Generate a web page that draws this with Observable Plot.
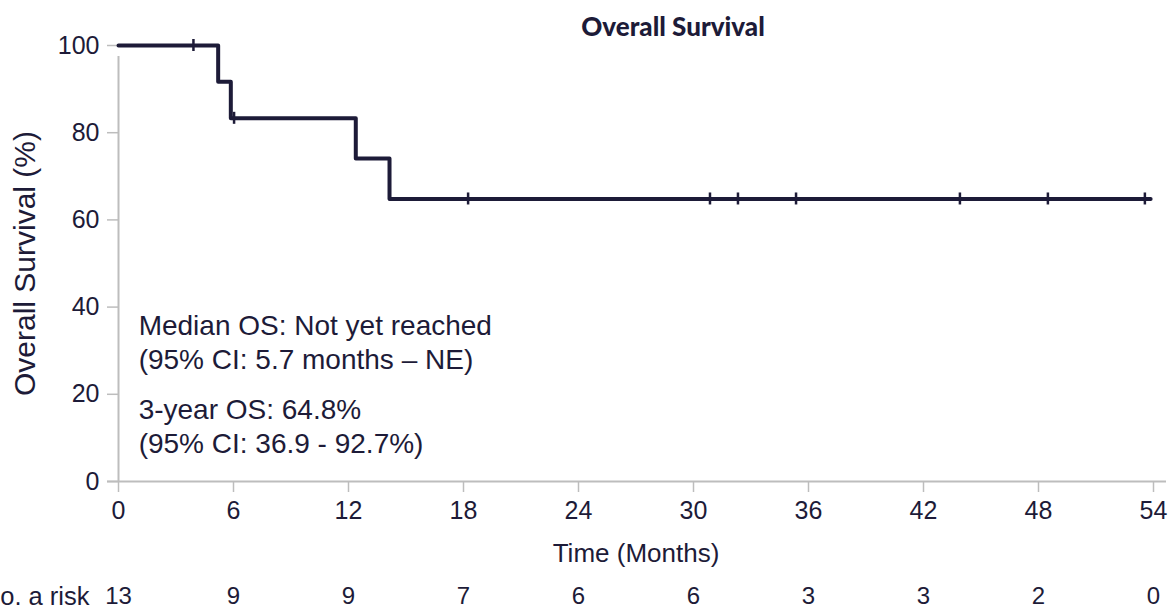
<!DOCTYPE html>
<html>
<head>
<meta charset="utf-8">
<script src="https://cdn.jsdelivr.net/npm/d3@7"></script>
<script src="https://cdn.jsdelivr.net/npm/@observablehq/plot@0.6"></script>
<style>
  html, body { margin: 0; padding: 0; background: #fff; }
  #chart { width: 1168px; height: 608px; overflow: hidden; }
</style>
</head>
<body>
<div id="chart"></div>
<script>
// Kaplan–Meier step curve (time in months, survival %)
const stepTimes = [0, 5.2, 5.86, 12.38, 14.14, 53.85];
const stepSurv  = [100, 91.7, 83.3, 74.1, 64.8, 64.8];

// Censoring marks
const censorTimes = [3.91, 6.03, 18.24, 30.86, 32.32, 35.35, 43.9, 48.49, 53.55];
const censorSurv  = [100, 83.3, 64.8, 64.8, 64.8, 64.8, 64.8, 64.8, 64.8];

// Axis ticks
const xTicks = [0, 6, 12, 18, 24, 30, 36, 42, 48, 54];
const yTicks = [0, 20, 40, 60, 80, 100];

// Number at risk
const riskTimes  = [0, 6, 12, 18, 24, 30, 36, 42, 48, 54];
const riskCounts = [13, 9, 9, 7, 6, 6, 3, 3, 2, 0];

// Text
const titleText = "Overall Survival";
const xLabel = "Time (Months)";
const yLabel = "Overall Survival (%)";
const riskLabel = "No. a risk";
const annotLines = [
  "Median OS: Not yet reached",
  "(95% CI: 5.7 months \u2013 NE)",
  "3-year OS: 64.8%",
  "(95% CI: 36.9 - 92.7%)"
];

const steps = stepTimes.map((t, i) => ({t, s: stepSurv[i]}));
const censors = censorTimes.map((t, i) => ({t, s: censorSurv[i]}));

const ink = "#1d1b38";
const axisGray = "#bdbdbd";
const font = "'Liberation Sans', Arial, sans-serif";

const chart = Plot.plot({
  width: 1168,
  height: 608,
  marginLeft: 118,
  marginRight: 15,
  marginTop: 45,
  marginBottom: 127,
  style: {fontFamily: font, color: ink, background: "#fff", overflow: "visible"},
  x: {domain: [0, 54]},
  y: {domain: [0, 100]},
  marks: [
    // axis lines
    Plot.ruleX([0], {y1: 0, y2: 100, stroke: axisGray, strokeWidth: 2, insetBottom: -11}),
    Plot.ruleY([0], {x1: 0, x2: 54, stroke: axisGray, strokeWidth: 2, insetLeft: -11, insetRight: -13}),
    Plot.axisX({ticks: xTicks, tickSize: 11, tickPadding: 9, fontSize: 25, stroke: axisGray, fill: ink, label: null, strokeWidth: 1.5}),
    Plot.axisY({ticks: yTicks, tickSize: 11, tickPadding: 8, fontSize: 25, stroke: axisGray, fill: ink, label: null, strokeWidth: 1.5}),
    // KM curve
    Plot.line(steps, {x: "t", y: "s", curve: "step-after", stroke: ink, strokeWidth: 4}),
    // censor marks
    Plot.ruleX(censors, {x: "t", y1: "s", y2: "s", insetTop: -6, insetBottom: -6, stroke: ink, strokeWidth: 2.5}),
    // annotations
    Plot.text(annotLines, {x: 1.05, y: [35.6, 27.8, 16.3, 8.5], textAnchor: "start", lineAnchor: "middle", fontSize: 28, fill: ink}),
    // title
    Plot.text([titleText], {frameAnchor: "top", dx: 37, dy: -18, lineAnchor: "middle", fontSize: 26, fontWeight: 900, fontFamily: "Lato, 'DejaVu Sans', sans-serif", fill: ink}),
    // axis labels
    Plot.text([xLabel], {frameAnchor: "bottom", dy: 72, lineAnchor: "middle", fontSize: 26, fill: ink}),
    Plot.text([yLabel], {frameAnchor: "left", dx: -93, rotate: -90, textAnchor: "middle", lineAnchor: "middle", fontSize: 30, fill: ink}),
    // number at risk
    Plot.text(riskCounts, {x: riskTimes, text: riskCounts, frameAnchor: "bottom", dy: 115, lineAnchor: "middle", fontSize: 24, fill: ink}),
    Plot.text([riskLabel], {frameAnchor: "bottom-left", dx: -29, dy: 115, textAnchor: "end", lineAnchor: "middle", fontSize: 25.5, fill: ink})
  ]
});
document.getElementById("chart").append(chart);
</script>
</body>
</html>
